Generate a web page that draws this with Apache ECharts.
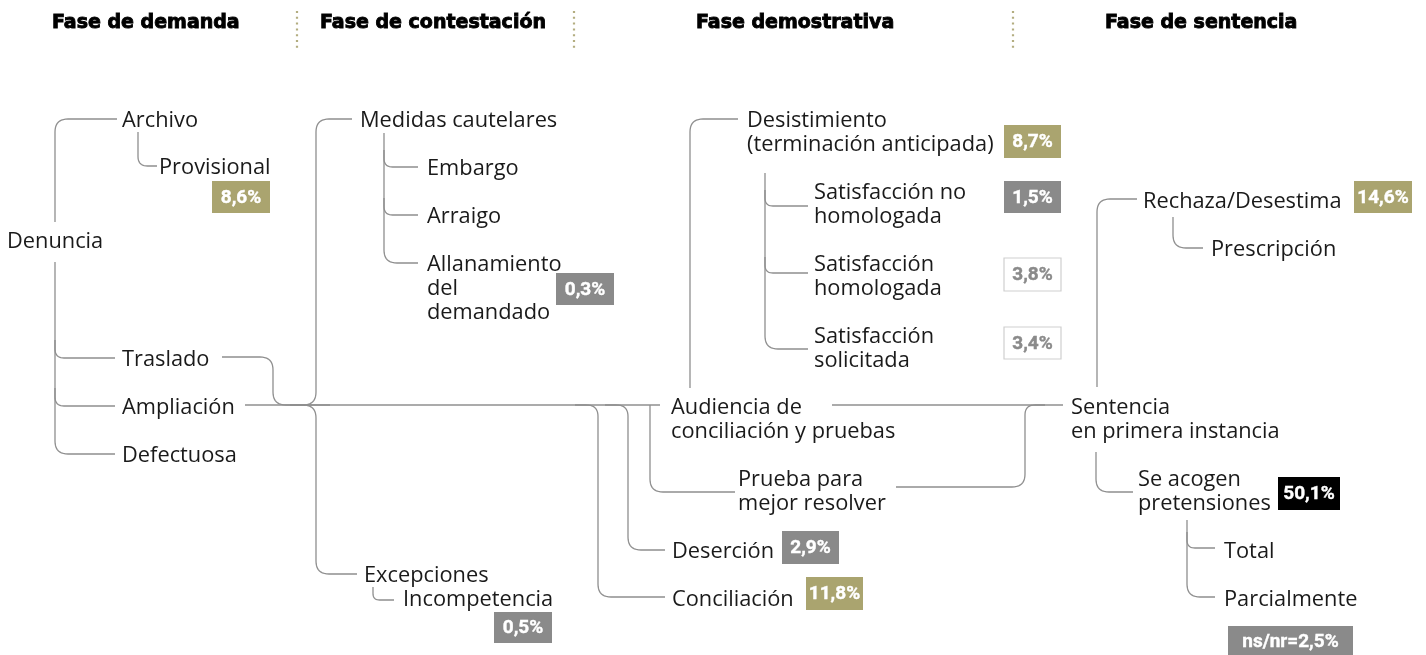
<!DOCTYPE html>
<html>
<head>
<meta charset="utf-8">
<script src="https://cdn.jsdelivr.net/npm/echarts@6/dist/echarts.min.js"></script>
<style>
  html, body { margin: 0; padding: 0; background: #fff; }
  #chart { width: 1426px; height: 655px; }
</style>
</head>
<body>
<div id="chart"></div>
<script>
// fases del proceso
const phaseTitles = ['Fase de demanda', 'Fase de contestación', 'Fase demostrativa', 'Fase de sentencia'];

// etapas (texto de cada nodo)
const stepLabels = [
  'Denuncia', 'Archivo', 'Provisional', 'Traslado', 'Ampliación', 'Defectuosa',
  'Medidas cautelares', 'Embargo', 'Arraigo', 'Allanamiento\ndel\ndemandado',
  'Excepciones', 'Incompetencia',
  'Audiencia de\nconciliación y pruebas', 'Desistimiento\n(terminación anticipada)',
  'Satisfacción no\nhomologada', 'Satisfacción\nhomologada', 'Satisfacción\nsolicitada',
  'Prueba para\nmejor resolver', 'Deserción', 'Conciliación',
  'Rechaza/Desestima', 'Prescripción', 'Sentencia\nen primera instancia',
  'Se acogen\npretensiones', 'Total', 'Parcialmente'
];

// porcentajes (%)
const shareValues = [8.6, 0.3, 0.5, 8.7, 1.5, 3.8, 3.4, 2.9, 11.8, 14.6, 50.1, 2.5];
const sharePrefix = ['', '', '', '', '', '', '', '', '', '', '', 'ns/nr='];
const shareKind = ['olive', 'gray', 'gray', 'olive', 'gray', 'outline', 'outline', 'gray', 'olive', 'olive', 'black', 'gray'];

// ---- layout (coordenadas del lienzo) ----
const phaseX = [52, 320, 696, 1105];
const separatorX = [297, 574, 1013];

const stepPos = [
  [7, 240], [122, 119], [159, 166], [122, 358], [122, 406], [122, 454],
  [360, 119], [427, 167], [427, 215], [427, 263],
  [364, 574], [403, 598],
  [671, 406], [747, 119],
  [814, 191], [814, 263], [814, 335],
  [738, 478], [672, 550], [672, 598],
  [1143, 200], [1211, 248], [1071, 406],
  [1138, 478], [1224, 550], [1224, 598]
];

const shareBox = [
  [212, 181, 270, 213], [556, 273, 614, 305], [494, 612, 552, 643],
  [1004, 125, 1061, 158], [1004, 181, 1061, 213], [1004, 258, 1061, 291],
  [1004, 327, 1061, 359], [782, 531, 839, 564], [806, 577, 863, 610],
  [1354, 181, 1412, 213], [1278, 477, 1340, 510], [1228, 626, 1353, 656]
];

const connectors = [
  [[117, 119], [55, 119], [55, 222]],
  [[55, 262], [55, 454], [115, 454]],
  [[55, 340], [55, 358], [115, 358]],
  [[55, 388], [55, 406], [115, 406]],
  [[138, 132], [138, 166], [157, 166]],
  [[222, 357], [273, 357], [273, 405], [330, 405]],
  [[245, 405], [660, 405]],
  [[290, 405], [316, 405], [316, 119], [352, 119]],
  [[290, 405], [316, 405], [316, 574], [357, 574]],
  [[384, 133], [384, 263], [418, 263]],
  [[384, 150], [384, 167], [418, 167]],
  [[384, 198], [384, 215], [418, 215]],
  [[373, 587], [373, 600], [394, 600]],
  [[575, 405], [598, 405], [598, 597], [665, 597]],
  [[605, 405], [628, 405], [628, 550], [665, 550]],
  [[650, 405], [650, 492], [735, 492]],
  [[690, 388], [690, 119], [738, 119]],
  [[765, 173], [765, 349], [808, 349]],
  [[765, 190], [765, 206], [808, 206]],
  [[765, 257], [765, 273], [808, 273]],
  [[832, 405], [1063, 405]],
  [[896, 487], [1025, 487], [1025, 405], [1045, 405]],
  [[1097, 387], [1097, 199], [1137, 199]],
  [[1173, 217], [1173, 248], [1203, 248]],
  [[1096, 452], [1096, 492], [1133, 492]],
  [[1187, 520], [1187, 597], [1215, 597]],
  [[1187, 532], [1187, 548], [1215, 548]]
];

const LINE = '#8f8f8f';
const INK = '#1a1a1a';
const badgeFill = { olive: '#aaa46f', gray: '#8a8a8a', black: '#000000', outline: '#ffffff' };

// esquinas redondeadas
function roundCorners(pts, r) {
  const out = [pts[0]];
  for (let i = 1; i < pts.length - 1; i++) {
    const p0 = pts[i - 1], p1 = pts[i], p2 = pts[i + 1];
    const d1 = Math.hypot(p0[0] - p1[0], p0[1] - p1[1]);
    const d2 = Math.hypot(p2[0] - p1[0], p2[1] - p1[1]);
    const rr = Math.min(r, d1 / 2, d2 / 2);
    const a = [p1[0] + (p0[0] - p1[0]) / d1 * rr, p1[1] + (p0[1] - p1[1]) / d1 * rr];
    const b = [p1[0] + (p2[0] - p1[0]) / d2 * rr, p1[1] + (p2[1] - p1[1]) / d2 * rr];
    for (let k = 0; k <= 10; k++) {
      const t = k / 10;
      out.push([
        (1 - t) * (1 - t) * a[0] + 2 * (1 - t) * t * p1[0] + t * t * b[0],
        (1 - t) * (1 - t) * a[1] + 2 * (1 - t) * t * p1[1] + t * t * b[1]
      ]);
    }
  }
  out.push(pts[pts.length - 1]);
  return out;
}

const chart = echarts.init(document.getElementById('chart'));

chart.setOption({
  animation: false,
  grid: { left: 0, right: 0, top: 0, bottom: 0 },
  xAxis: { type: 'value', min: 0, max: 1426, show: false },
  yAxis: { type: 'value', min: 0, max: 655, inverse: true, show: false },
  series: [
    {
      // conectores
      type: 'custom',
      clip: false,
      silent: true,
      data: connectors.map((c, i) => [i]),
      renderItem: (params, api) => {
        const pts = connectors[api.value(0)].map(p => api.coord(p));
        return {
          type: 'polyline',
          shape: { points: roundCorners(pts, 13) },
          style: { stroke: LINE, fill: null, lineWidth: 1.3 }
        };
      }
    },
    {
      // separadores punteados
      type: 'custom',
      clip: false,
      silent: true,
      data: separatorX.map((x, i) => [i]),
      renderItem: (params, api) => {
        const x = separatorX[api.value(0)];
        return {
          type: 'polyline',
          shape: { points: [api.coord([x, 11]), api.coord([x, 49])] },
          style: { stroke: '#b3ad80', fill: null, lineWidth: 2.2, lineDash: [2, 3.8] }
        };
      }
    },
    {
      // títulos de fase
      type: 'custom',
      clip: false,
      silent: true,
      data: phaseTitles.map((t, i) => [i]),
      renderItem: (params, api) => {
        const i = api.value(0);
        const p = api.coord([phaseX[i], 23]);
        return {
          type: 'text',
          x: p[0], y: p[1],
          style: {
            text: phaseTitles[i], fill: '#000',
            font: 'bold 19px "DejaVu Sans"',
            stroke: '#000', lineWidth: 0.9,
            verticalAlign: 'middle', align: 'left'
          }
        };
      }
    },
    {
      // etapas
      type: 'custom',
      clip: false,
      silent: true,
      data: stepLabels.map((t, i) => [i]),
      renderItem: (params, api) => {
        const i = api.value(0);
        const p = api.coord(stepPos[i]);
        return {
          type: 'text',
          x: p[0], y: p[1] - 10.5,
          style: {
            text: stepLabels[i], fill: INK,
            font: '21.8px "Open Sans"', lineHeight: 24,
            verticalAlign: 'top', align: 'left'
          }
        };
      }
    },
    {
      // porcentajes
      type: 'custom',
      clip: false,
      silent: true,
      data: shareValues.map((v, i) => [i]),
      renderItem: (params, api) => {
        const i = api.value(0);
        const b = shareBox[i];
        const p0 = api.coord([b[0], b[1]]);
        const p1 = api.coord([b[2], b[3]]);
        const kind = shareKind[i];
        const label = sharePrefix[i] + shareValues[i].toFixed(1).replace('.', ',') + '%';
        const txtColor = kind === 'outline' ? '#8a8a8a' : '#fff';
        return {
          type: 'group',
          children: [
            {
              type: 'rect',
              shape: { x: p0[0], y: p0[1], width: p1[0] - p0[0], height: p1[1] - p0[1] },
              style: kind === 'outline'
                ? { fill: '#fff', stroke: '#cfcfcf', lineWidth: 1.2 }
                : { fill: badgeFill[kind] }
            },
            {
              type: 'text',
              x: (p0[0] + p1[0]) / 2, y: (p0[1] + p1[1]) / 2 + 1,
              style: {
                text: label,
                fill: txtColor, stroke: txtColor, lineWidth: 0.4,
                font: 'bold 19px Roboto',
                align: 'center', verticalAlign: 'middle'
              }
            }
          ]
        };
      }
    }
  ]
});
</script>
</body>
</html>
